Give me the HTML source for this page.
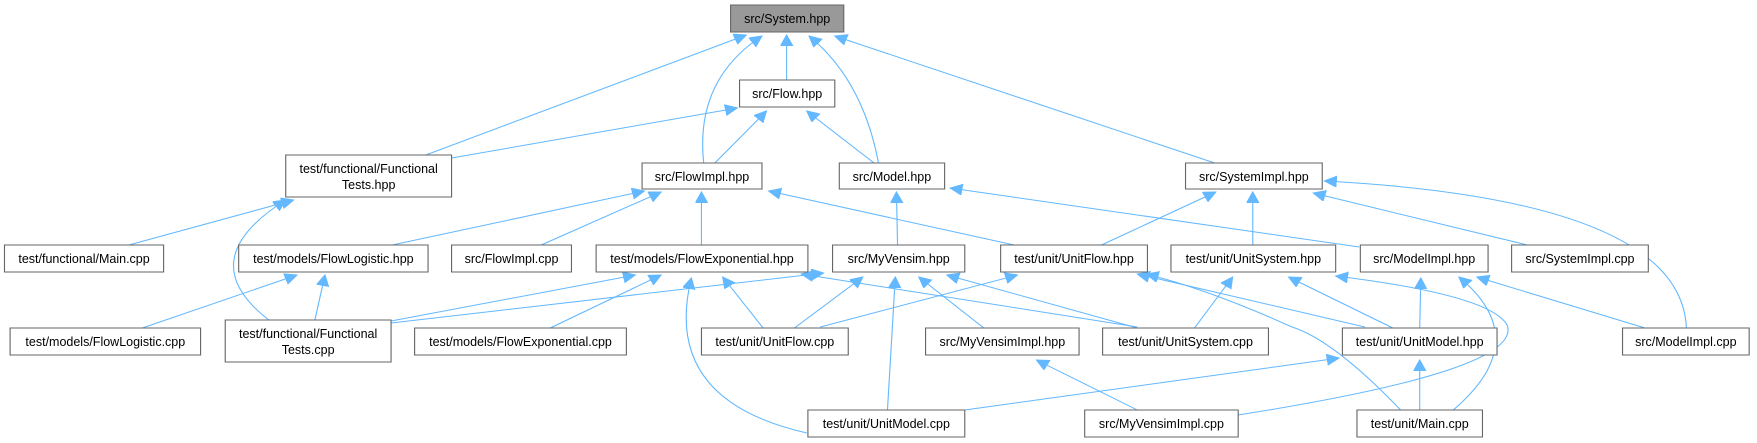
<!DOCTYPE html>
<html><head><meta charset="utf-8"><style>
html,body{margin:0;padding:0;background:#fff;}
svg{display:block;}
text{font-family:"Liberation Sans",Arial,sans-serif;font-size:12.5px;fill:#000;text-anchor:middle;transform-box:fill-box;transform-origin:center;transform:scaleX(0.8925);}
rect{fill:#fff;stroke:#666;stroke-width:1;}
path{fill:none;stroke:#63b8ff;stroke-width:1;}
</style></head><body>
<svg width="1757" height="443" viewBox="0 0 1568 443" preserveAspectRatio="none" xmlns="http://www.w3.org/2000/svg">
<defs><marker id="a" markerWidth="12" markerHeight="12" refX="11" refY="5.5" orient="auto" markerUnits="userSpaceOnUse"><path d="M0,0 L11,5.5 L0,11 z" style="fill:#63b8ff;stroke:#63b8ff"/></marker></defs>
<g marker-end="url(#a)">
<path d="M380,155 L666,35"/>
<path d="M628,163 Q620,80 680,36"/>
<path d="M702,80 L702,35"/>
<path d="M784,163 Q770,80 722,36"/>
<path d="M1084,163 L745,36"/>
<path d="M403,158 L658,108"/>
<path d="M638,163 L684,111"/>
<path d="M780,163 L720,111"/>
<path d="M115,245 L262,200"/>
<path d="M240,320 Q170,260 255,200"/>
<path d="M350,245 L575,191"/>
<path d="M483,245 L590,192"/>
<path d="M626,245 L626,192"/>
<path d="M905,245 L686,191"/>
<path d="M801,245 L800,192"/>
<path d="M1213,247 L848,188"/>
<path d="M983,245 L1085,192"/>
<path d="M1118,245 L1118,192"/>
<path d="M1363,245 L1172,193"/>
<path d="M1505,328 Q1500,200 1182,181"/>
<path d="M127,328 L265,275"/>
<path d="M281,320 L290,275"/>
<path d="M349,321 L567,275"/>
<path d="M491,328 L590,275"/>
<path d="M681,328 L645,277"/>
<path d="M720,433 Q590,400 617,278"/>
<path d="M349,323 L735,273"/>
<path d="M709,328 L770,277"/>
<path d="M792,410 L799,277"/>
<path d="M878,328 L820,277"/>
<path d="M1015,328 L845,275"/>
<path d="M1015,327 L715,274"/>
<path d="M732,327 L908,275"/>
<path d="M1218,327 L1015,274"/>
<path d="M1250,410 Q1190,340 1153,327 Q1080,290 1023,274"/>
<path d="M1066,328 L1100,277"/>
<path d="M1243,328 L1150,277"/>
<path d="M1105,415 Q1360,370 1345,325 Q1330,295 1192,276"/>
<path d="M1267,328 L1268,278"/>
<path d="M1468,328 L1318,277"/>
<path d="M1297,410 Q1370,340 1302,277"/>
<path d="M1015,410 L925,360"/>
<path d="M861,410 L1195,358"/>
<path d="M1267,410 L1267,360"/>
</g>
<rect x="652" y="5" width="101" height="27" style="fill:#999"/><text x="702.5" y="23">src/System.hpp</text>
<rect x="660" y="80" width="85" height="27"/><text x="702.5" y="98">src/Flow.hpp</text>
<rect x="255" y="155" width="148" height="42"/><text x="329" y="173">test/functional/Functional</text><text x="329" y="189">Tests.hpp</text>
<rect x="573" y="163" width="107" height="26"/><text x="626.5" y="181">src/FlowImpl.hpp</text>
<rect x="749" y="163" width="94" height="26"/><text x="796" y="181">src/Model.hpp</text>
<rect x="1058" y="163" width="122" height="26"/><text x="1119" y="181">src/SystemImpl.hpp</text>
<rect x="4" y="245" width="142" height="27"/><text x="75" y="263">test/functional/Main.cpp</text>
<rect x="213" y="245" width="169" height="27"/><text x="297.5" y="263">test/models/FlowLogistic.hpp</text>
<rect x="403" y="245" width="107" height="27"/><text x="456.5" y="263">src/FlowImpl.cpp</text>
<rect x="532" y="245" width="189" height="27"/><text x="626.5" y="263">test/models/FlowExponential.hpp</text>
<rect x="743" y="245" width="118" height="27"/><text x="802" y="263">src/MyVensim.hpp</text>
<rect x="893" y="245" width="131" height="27"/><text x="958.5" y="263">test/unit/UnitFlow.hpp</text>
<rect x="1045" y="245" width="147" height="27"/><text x="1118.5" y="263">test/unit/UnitSystem.hpp</text>
<rect x="1214" y="245" width="114" height="27"/><text x="1271" y="263">src/ModelImpl.hpp</text>
<rect x="1349" y="245" width="122" height="27"/><text x="1410" y="263">src/SystemImpl.cpp</text>
<rect x="9" y="328" width="170" height="27"/><text x="94" y="346">test/models/FlowLogistic.cpp</text>
<rect x="201" y="320" width="148" height="42"/><text x="275" y="338">test/functional/Functional</text><text x="275" y="354">Tests.cpp</text>
<rect x="370" y="328" width="189" height="27"/><text x="464.5" y="346">test/models/FlowExponential.cpp</text>
<rect x="626" y="328" width="131" height="27"/><text x="691.5" y="346">test/unit/UnitFlow.cpp</text>
<rect x="826" y="328" width="137" height="27"/><text x="894.5" y="346">src/MyVensimImpl.hpp</text>
<rect x="984" y="328" width="148" height="27"/><text x="1058" y="346">test/unit/UnitSystem.cpp</text>
<rect x="1198" y="328" width="138" height="27"/><text x="1267" y="346">test/unit/UnitModel.hpp</text>
<rect x="1448" y="328" width="113" height="27"/><text x="1504.5" y="346">src/ModelImpl.cpp</text>
<rect x="721" y="410" width="140" height="27"/><text x="791" y="428">test/unit/UnitModel.cpp</text>
<rect x="968" y="410" width="137" height="27"/><text x="1036.5" y="428">src/MyVensimImpl.cpp</text>
<rect x="1211" y="410" width="112" height="27"/><text x="1267" y="428">test/unit/Main.cpp</text>
</svg>
</body></html>
